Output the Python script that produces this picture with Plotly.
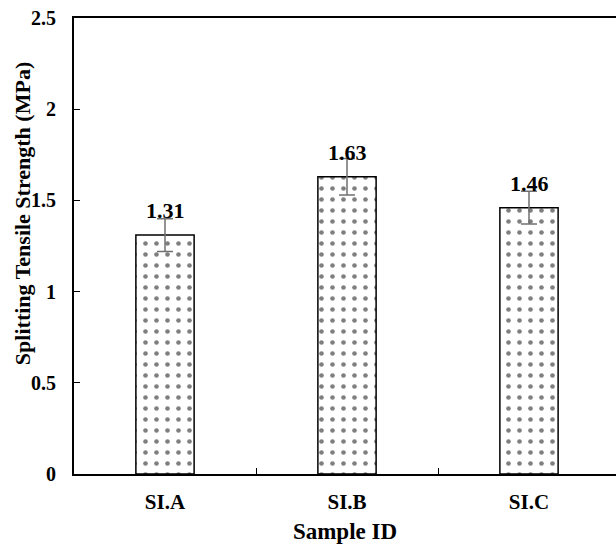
import plotly.graph_objects as go

categories = ["SI.A", "SI.B", "SI.C"]
strength = [1.31, 1.63, 1.46]
errors = [0.09, 0.10, 0.09]
label_text = ["1.31", "1.63", "1.46"]
y_ticks = [0, 0.5, 1, 1.5, 2, 2.5]
y_tick_labels = ["0", "0.5", "1", "1.5", "2", "2.5"]
y_title = "Splitting Tensile Strength (MPa)"

FONT = "Liberation Serif"

fig = go.Figure()
fig.add_trace(go.Bar(
    x=categories, y=strength, width=0.32,
    marker=dict(color="white",
                line=dict(color="black", width=1.5),
                pattern=dict(shape=".", fgcolor="black", bgcolor="white",
                             size=11, solidity=0.14)),
    error_y=dict(type="data", array=errors, visible=True,
                 color="#707070", thickness=1.5, width=8),
    showlegend=False,
))

for c, v, t in zip(categories, strength, label_text):
    fig.add_annotation(x=c, y=v, text="<b>%s</b>" % t, showarrow=False,
                       yanchor="bottom", yshift=10,
                       font=dict(family=FONT, size=22, color="black"))

# y-axis title placed as a rotated annotation (slightly above centre, like the original)
fig.add_annotation(xref="paper", yref="paper", x=-0.096, y=0.572,
                   xanchor="center", yanchor="middle", textangle=-90,
                   text="<b>%s</b>" % y_title, showarrow=False,
                   font=dict(family=FONT, size=22, color="black"))

fig.update_layout(
    width=616, height=545,
    margin=dict(l=74, r=0, t=18, b=71),
    paper_bgcolor="white", plot_bgcolor="white",
    font=dict(family=FONT, color="black"),
)
fig.update_xaxes(
    range=[-0.5, 2.478],
    showline=True, linecolor="black", linewidth=2, mirror=True,
    ticks="inside", tickson="boundaries", ticklen=6, tickcolor="black",
    tickfont=dict(family=FONT, size=21), ticklabelstandoff=8,
    tickprefix="<b>", ticksuffix="</b>",
    title=dict(text="<b>Sample ID</b>", font=dict(family=FONT, size=23), standoff=10),
    showgrid=False,
)
fig.update_yaxes(
    range=[0, 2.5],
    tickvals=y_ticks, ticktext=["<b>%s</b>" % s for s in y_tick_labels],
    showline=True, linecolor="black", linewidth=2, mirror=False,
    ticks="inside", ticklen=6, tickcolor="black",
    tickfont=dict(family=FONT, size=20), ticklabelstandoff=12,
    showgrid=False, zeroline=False,
)

fig.write_html("out.html", config={"displayModeBar": False},
               post_script="document.body.style.margin='0';document.body.style.overflow='hidden';")
